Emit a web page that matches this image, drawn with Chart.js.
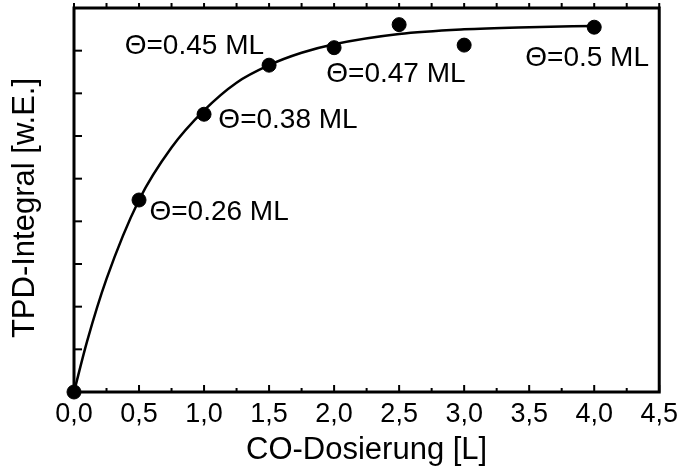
<!DOCTYPE html>
<html>
<head>
<meta charset="utf-8">
<script src="https://cdn.jsdelivr.net/npm/chart.js@4/dist/chart.umd.min.js"></script>
<style>
  html, body { margin: 0; padding: 0; background: #fff; }
  #wrap { width: 684px; height: 474px; }
</style>
</head>
<body>
<div id="wrap"><canvas id="c" width="684" height="474"></canvas></div>
<script>
// Measured points (CO dose in L, TPD integral in arb. units)
const doseX = [0, 0.5, 1.0, 1.5, 2.0, 2.5, 3.0, 4.0];
const tpdY = [0, 4.50, 6.51, 7.66, 8.07, 8.61, 8.13, 8.55];

// Fit curve
const fitX = [0, 0.1, 0.25, 0.5, 0.75, 1.0, 1.25, 1.5, 1.75, 2.0, 2.5, 3.0, 3.5, 4.0];
const fitY = [0, 1.18, 2.65, 4.50, 5.73, 6.60, 7.25, 7.66, 7.95, 8.15, 8.39, 8.50, 8.55, 8.58];

// Coverage labels
const thetaText = ['Θ=0.26 ML', 'Θ=0.38 ML', 'Θ=0.45 ML', 'Θ=0.47 ML', 'Θ=0.5 ML'];
const thetaAtX = [0.58, 1.11, 0.39, 1.94, 3.47];
const thetaAtY = [4.21, 6.36, 8.11, 7.45, 7.83];

const FONT = '"Liberation Sans", Arial, sans-serif';
const yTitle = 'TPD-Integral [w.E.]';

// axes box with inward ticks, y title
const frame = {
  id: 'frame',
  beforeDatasetsDraw(chart) {
    const { ctx, chartArea: a, scales: { x, y } } = chart;
    ctx.save();
    ctx.strokeStyle = '#000';
    ctx.lineWidth = 2;
    x.ticks.forEach(t => {
      const px = x.getPixelForValue(t.value);
      const major = Math.abs(t.value * 2 - Math.round(t.value * 2)) < 1e-6;
      const len = major ? 7 : 4;
      ctx.beginPath();
      ctx.moveTo(px, a.bottom);
      ctx.lineTo(px, a.bottom - len);
      ctx.moveTo(px, a.top);
      ctx.lineTo(px, a.top - 5);
      ctx.stroke();
    });
    y.ticks.forEach(t => {
      const py = y.getPixelForValue(t.value);
      ctx.beginPath();
      ctx.moveTo(a.left, py);
      ctx.lineTo(a.left + 8, py);
      ctx.stroke();
    });
    ctx.lineWidth = 3;
    ctx.strokeRect(a.left, a.top, a.right - a.left, a.bottom - a.top);

    // y title, sits a little below the middle in the original
    ctx.fillStyle = '#000';
    ctx.font = '31px ' + FONT;
    ctx.textAlign = 'center';
    ctx.textBaseline = 'middle';
    ctx.translate(25, (a.top + a.bottom) / 2 + 8);
    ctx.rotate(-Math.PI / 2);
    ctx.fillText(yTitle, 0, 0);
    ctx.restore();
  }
};

const thetaLabels = {
  id: 'thetaLabels',
  afterDatasetsDraw(chart) {
    const { ctx, scales: { x, y } } = chart;
    ctx.save();
    ctx.fillStyle = '#000';
    ctx.font = '28px ' + FONT;
    ctx.textAlign = 'left';
    ctx.textBaseline = 'middle';
    thetaText.forEach((txt, i) => {
      ctx.fillText(txt, x.getPixelForValue(thetaAtX[i]), y.getPixelForValue(thetaAtY[i]));
    });
    ctx.restore();
  }
};

new Chart(document.getElementById('c'), {
  type: 'scatter',
  data: {
    datasets: [
      {
        label: 'Fit',
        data: fitX.map((v, i) => ({ x: v, y: fitY[i] })),
        showLine: true,
        borderColor: '#000',
        borderWidth: 2.5,
        pointRadius: 0,
        cubicInterpolationMode: 'monotone',
        clip: false
      },
      {
        label: 'TPD',
        data: doseX.map((v, i) => ({ x: v, y: tpdY[i] })),
        backgroundColor: '#000',
        borderColor: '#000',
        pointRadius: 7,
        clip: false
      }
    ]
  },
  options: {
    responsive: false,
    animation: false,
    layout: { padding: { top: 6, right: 22, left: 0, bottom: 0 } },
    plugins: { legend: { display: false }, tooltip: { enabled: false } },
    scales: {
      x: {
        type: 'linear',
        min: 0,
        max: 4.5,
        grid: { display: false, drawTicks: false },
        border: { display: false },
        ticks: {
          stepSize: 0.25,
          autoSkip: false,
          maxRotation: 0,
          padding: 6,
          color: '#000',
          font: { family: FONT, size: 27 },
          callback: v => (Math.abs(v * 2 - Math.round(v * 2)) < 1e-6 ? v.toFixed(1).replace('.', ',') : '')
        },
        title: {
          display: true,
          text: 'CO-Dosierung [L]',
          color: '#000',
          font: { family: FONT, size: 31 },
          padding: { top: 0, bottom: 5 }
        },
        afterFit: s => { s.height = 82; }
      },
      y: {
        type: 'linear',
        min: 0,
        max: 9,
        grid: { display: false, drawTicks: false },
        border: { display: false },
        ticks: { stepSize: 1, display: false },
        title: { display: false },
        afterFit: s => { s.width = 74; }
      }
    }
  },
  plugins: [frame, thetaLabels]
});
</script>
</body>
</html>
